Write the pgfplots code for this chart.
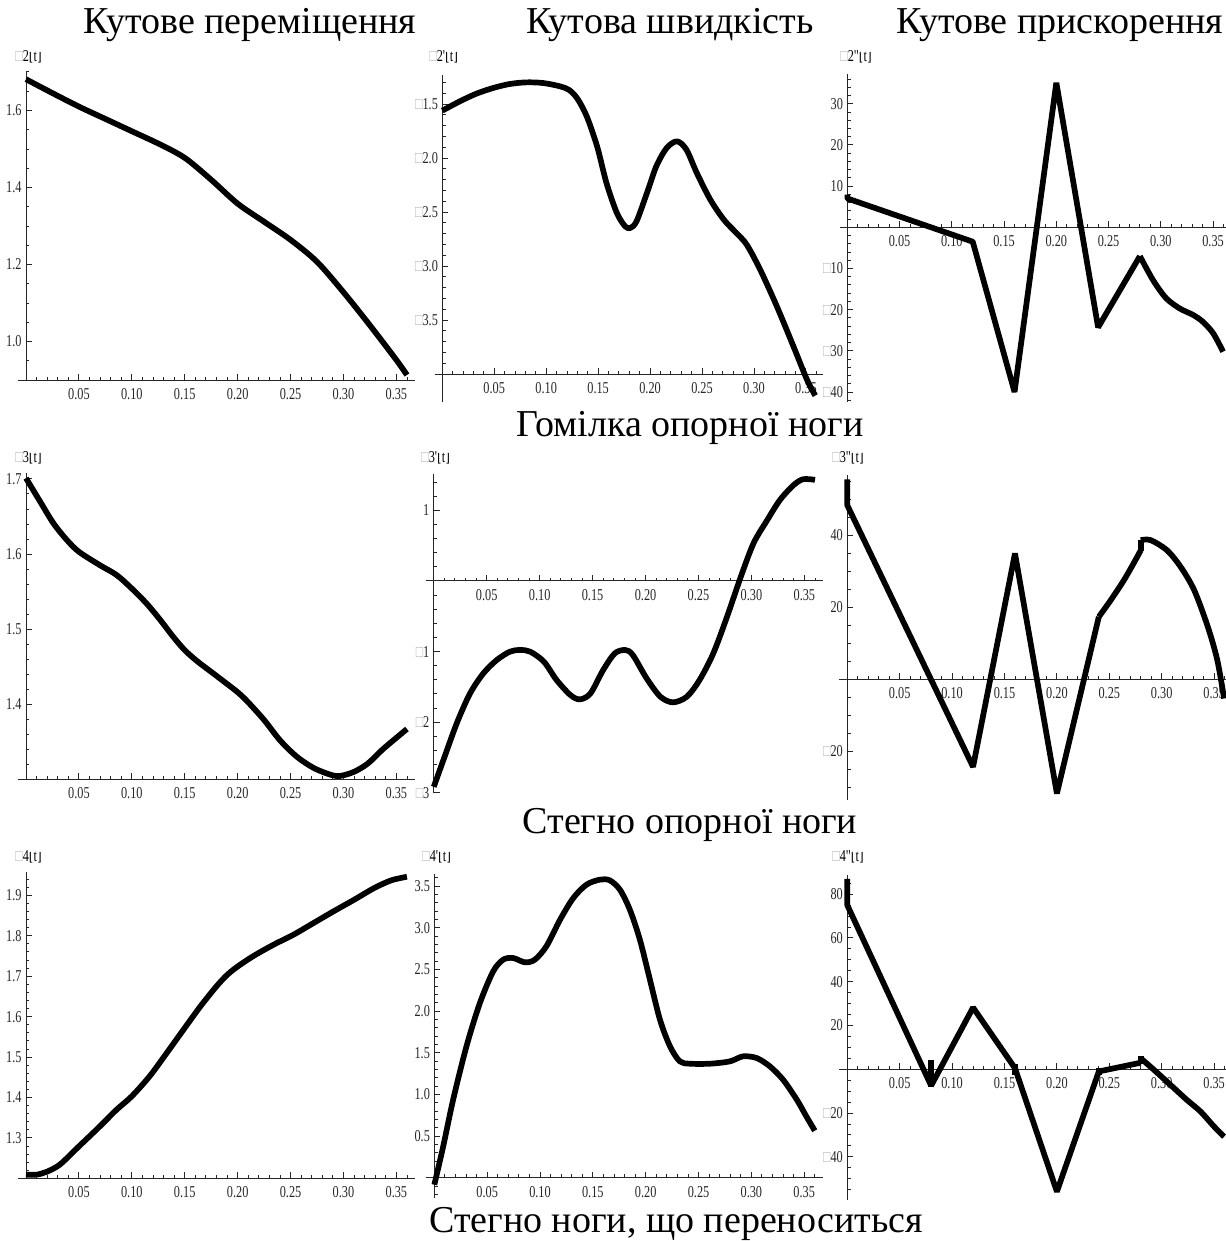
\documentclass[border=0pt]{standalone}
\usepackage{pgfplots}
\pgfplotsset{compat=1.18}
\usepackage{fontspec}
\setmainfont{Liberation Serif}
\newfontfamily\tickfont[FakeStretch=0.74]{Liberation Serif}
\newfontfamily\djv{DejaVu Sans}
\newcommand{\mb}{\textcolor{gray!55}{□}}
\newcommand{\tf}{\tickfont\fontsize{8.3bp}{9bp}\selectfont}
\newcommand{\ylab}[1]{{\tf\mb#1{\djv\fontsize{6bp}{7bp}\selectfont⌊}t{\djv\fontsize{6bp}{7bp}\selectfont⌋}}}

\pgfplotsset{
  every non boxed x axis/.style={},
  every non boxed y axis/.style={},
  mm/.style={
    scale only axis, clip=false, enlargelimits=false,
    axis line style={-, line width=0.5bp, black!85},
    tick align=inside,
    major tick length=3bp, minor tick length=1.7bp,
    every tick/.style={black!85, line width=0.45bp},
    tick label style={font=\tf, text=black!85},
    xtick={0.05,0.1,0.15,0.2,0.25,0.3,0.35},
    xticklabels={0.05,0.10,0.15,0.20,0.25,0.30,0.35},
    minor xtick={0.01,0.02,0.03,0.04,0.06,0.07,0.08,0.09,0.11,0.12,0.13,0.14,0.16,0.17,0.18,0.19,0.21,0.22,0.23,0.24,0.26,0.27,0.28,0.29,0.31,0.32,0.33,0.34,0.36},
    xticklabel style={inner sep=0pt, yshift=-4bp},
    yticklabel style={inner sep=0pt, xshift=-2bp},
  },
  bl/.style={mm, axis x line=bottom, axis y line=left, xmin=0, xmax=0.368,
      x axis line style={-, shorten <=-4bp}},
  mid/.style={mm, axis lines=middle, xmin=-0.0075},
  crv/.style={black, line width=2.85bp, line join=bevel},
}

\begin{document}
\begin{tikzpicture}[x=0.5bp,y=-0.5bp]
\path[use as bounding box] (0,0) rectangle (1226,1241);
\coordinate (p1) at (26,380);
\coordinate (p2) at (442.3,374);
\coordinate (p3) at (839.5,401.9);
\coordinate (p4) at (26,779.3);
\coordinate (p5) at (425.8,792.8);
\coordinate (p6) at (839.4,800);
\coordinate (p7) at (26,1178.3);
\coordinate (p8) at (426.4,1197.7);
\coordinate (p9) at (839.4,1199.9);

% titles
\node[anchor=base, font=\fontsize{19bp}{21bp}\selectfont] at (250,34) {Кутове переміщення};
\node[anchor=base, font=\fontsize{19bp}{21bp}\selectfont] at (670,34) {Кутова швидкість};
\node[anchor=base, font=\fontsize{19bp}{21bp}\selectfont] at (1060,34) {Кутове прискорення};
\node[anchor=base, font=\fontsize{19bp}{21bp}\selectfont] at (690,436) {Гомілка опорної ноги};
\node[anchor=base, font=\fontsize{19bp}{21bp}\selectfont] at (690,833) {Стегно опорної ноги};
\node[anchor=base, font=\fontsize{19bp}{21bp}\selectfont] at (676,1232) {Стегно ноги, що переноситься};

% y labels
\node[anchor=base west, inner sep=0pt] at (15,62) {\ylab{2}};
\node[anchor=base west, inner sep=0pt] at (429,62) {\ylab{2'}};
\node[anchor=base west, inner sep=0pt] at (840,62) {\ylab{2"}};
\node[anchor=base west, inner sep=0pt] at (15,462) {\ylab{3}};
\node[anchor=base west, inner sep=0pt] at (421,462) {\ylab{3'}};
\node[anchor=base west, inner sep=0pt] at (832,462) {\ylab{3"}};
\node[anchor=base west, inner sep=0pt] at (15,861) {\ylab{4}};
\node[anchor=base west, inner sep=0pt] at (422,861) {\ylab{4'}};
\node[anchor=base west, inner sep=0pt] at (832,861) {\ylab{4"}};

% ---------- Panel 1
\begin{axis}[bl, at={(p1)}, anchor=south west, width=194.7bp, height=154.6bp,
  ymin=0.90, ymax=1.703,
  ytick={1.0,1.2,1.4,1.6}, yticklabels={1.0,1.2,1.4,1.6},
  minor ytick={0.95,1.05,1.1,1.15,1.25,1.3,1.35,1.45,1.5,1.55,1.65,1.7}]
\addplot[crv, smooth] coordinates {(0,1.681) (0.025,1.645) (0.05,1.610) (0.075,1.578) (0.10,1.546) (0.125,1.514) (0.15,1.477) (0.175,1.420) (0.20,1.358) (0.225,1.311) (0.25,1.264) (0.275,1.207) (0.30,1.128) (0.325,1.042) (0.35,0.952) (0.36,0.913)};
\end{axis}

% ---------- Panel 2
\begin{axis}[bl, at={(p2)}, anchor=south west, width=190.1bp, height=149.7bp,
  xmax=0.366, ymin=-4, ymax=-1.228,
  x axis line style={-, shorten <=-3.5bp},
  y axis line style={-, shorten <=-13.85bp},
  ytick={-3.5,-3,-2.5,-2,-1.5}, yticklabels={\mb3.5,\mb3.0,\mb2.5,\mb2.0,\mb1.5},
  minor ytick={-3.9,-3.8,-3.7,-3.6,-3.4,-3.3,-3.2,-3.1,-2.9,-2.8,-2.7,-2.6,-2.4,-2.3,-2.2,-2.1,-1.9,-1.8,-1.7,-1.6,-1.4,-1.3}]
\addplot[crv, smooth] coordinates {(0,-1.562) (0.017,-1.475) (0.033,-1.404) (0.049,-1.352) (0.065,-1.315) (0.081,-1.300) (0.097,-1.306) (0.113,-1.336) (0.122,-1.370) (0.130,-1.450) (0.139,-1.614) (0.149,-1.892) (0.158,-2.231) (0.168,-2.509) (0.176,-2.633) (0.181,-2.648) (0.187,-2.586) (0.197,-2.324) (0.206,-2.077) (0.216,-1.907) (0.226,-1.846) (0.235,-1.923) (0.245,-2.139) (0.258,-2.386) (0.271,-2.571) (0.283,-2.694) (0.293,-2.802) (0.306,-3.034) (0.322,-3.373) (0.338,-3.744) (0.351,-4.052) (0.359,-4.200)};
\end{axis}

% ---------- Panel 3
\begin{axis}[mid, at={(p3)}, anchor=south west, width=193.3bp, height=163.7bp,
  xmax=0.3625, ymin=-42.4, ymax=37.1,
  ytick={-40,-30,-20,-10,10,20,30}, yticklabels={\mb40,\mb30,\mb20,\mb10,10,20,30},
  minor ytick={-42,-38,-36,-34,-32,-28,-26,-24,-22,-18,-16,-14,-12,-8,-6,-4,-2,2,4,6,8,12,14,16,18,22,24,26,28,32,34,36}]
\addplot[crv] coordinates {(0,7.9) (0,7.0) (0.12,-3.5) (0.16,-40) (0.20,35.1) (0.24,-24.3) (0.28,-7.0)};
\addplot[crv, smooth] coordinates {(0.28,-7.0) (0.2925,-12.8) (0.305,-17.2) (0.318,-19.7) (0.331,-21.3) (0.340,-22.9) (0.350,-25.7) (0.3596,-30.2)};
\end{axis}

% ---------- Panel 4
\begin{axis}[bl, at={(p4)}, anchor=south west, width=194.7bp, height=153bp,
  ymin=1.30, ymax=1.7075,
  ytick={1.4,1.5,1.6,1.7}, yticklabels={1.4,1.5,1.6,1.7},
  minor ytick={1.32,1.34,1.36,1.38,1.42,1.44,1.46,1.48,1.52,1.54,1.56,1.58,1.62,1.64,1.66,1.68}]
\addplot[crv, smooth] coordinates {(0,1.701) (0.0133,1.670) (0.0259,1.641) (0.0384,1.619) (0.05,1.603) (0.070,1.585) (0.0857,1.572) (0.10,1.554) (0.114,1.534) (0.127,1.512) (0.139,1.490) (0.150,1.472) (0.162,1.457) (0.177,1.441) (0.19,1.427) (0.2,1.416) (0.209,1.404) (0.225,1.379) (0.240,1.352) (0.256,1.330) (0.272,1.315) (0.288,1.306) (0.297,1.3045) (0.310,1.310) (0.323,1.321) (0.338,1.341) (0.36,1.367)};
\end{axis}

% ---------- Panel 5
\begin{axis}[mid, at={(p5)}, anchor=south west, width=198.6bp, height=159.6bp,
  xmax=0.3676, ymin=-3.0, ymax=1.52,
  ytick={-3,-2,-1,1}, yticklabels={\mb3,\mb2,\mb1,1},
  minor ytick={-2.8,-2.6,-2.4,-2.2,-1.8,-1.6,-1.4,-1.2,-0.8,-0.6,-0.4,-0.2,0.2,0.4,0.6,0.8,1.2,1.4}]
\addplot[crv, smooth] coordinates {(0,-2.915) (0.0091,-2.537) (0.0217,-2.017) (0.0343,-1.592) (0.0469,-1.308) (0.0595,-1.120) (0.072,-1.001) (0.0815,-0.978) (0.091,-1.001) (0.104,-1.143) (0.116,-1.403) (0.129,-1.615) (0.138,-1.677) (0.148,-1.592) (0.160,-1.261) (0.171,-1.025) (0.181,-0.978) (0.188,-1.049) (0.201,-1.379) (0.214,-1.639) (0.226,-1.719) (0.239,-1.639) (0.251,-1.403) (0.264,-1.025) (0.277,-0.505) (0.290,0.061) (0.302,0.534) (0.315,0.864) (0.327,1.148) (0.340,1.360) (0.349,1.441) (0.360,1.431)};
\end{axis}

% ---------- Panel 6
\begin{axis}[mid, at={(p6)}, anchor=south west, width=193.9bp, height=162.5bp,
  xmax=0.3625, ymin=-33.6, ymax=56.7,
  ytick={-20,20,40}, yticklabels={\mb20,20,40},
  minor ytick={-30,-25,-15,-10,-5,5,10,15,25,30,35,45,50,55}]
\addplot[crv] coordinates {(0,55.5) (0,48.3) (0.12,-24.4) (0.16,34.9) (0.20,-31.8) (0.24,17.3)};
\addplot[crv, smooth] coordinates {(0.24,17.3) (0.2513,21.9) (0.264,27.5) (0.275,33.1) (0.28,35.8)};
\addplot[crv] coordinates {(0.28,35.5) (0.28,38.6)};
\addplot[crv, smooth] coordinates {(0.28,38.6) (0.2895,38.6) (0.305,35.8) (0.318,31.2) (0.331,24.7) (0.344,14.5) (0.353,5.3) (0.3595,-5.4)};
\end{axis}

% ---------- Panel 7
\begin{axis}[bl, at={(p7)}, anchor=south west, width=194.7bp, height=153.4bp,
  ymin=1.20, ymax=1.959,
  ytick={1.3,1.4,1.5,1.6,1.7,1.8,1.9}, yticklabels={1.3,1.4,1.5,1.6,1.7,1.8,1.9},
  minor ytick={1.22,1.24,1.26,1.28,1.32,1.34,1.36,1.38,1.42,1.44,1.46,1.48,1.52,1.54,1.56,1.58,1.62,1.64,1.66,1.68,1.72,1.74,1.76,1.78,1.82,1.84,1.86,1.88,1.92,1.94}]
\addplot[crv, smooth] coordinates {(0,1.209) (0.0099,1.209) (0.0194,1.216) (0.032,1.234) (0.05,1.279) (0.070,1.329) (0.0857,1.370) (0.10,1.403) (0.117,1.453) (0.133,1.510) (0.150,1.572) (0.165,1.626) (0.180,1.675) (0.19,1.703) (0.200,1.724) (0.215,1.750) (0.234,1.778) (0.253,1.803) (0.272,1.832) (0.291,1.861) (0.310,1.889) (0.329,1.918) (0.345,1.937) (0.36,1.946)};
\end{axis}

% ---------- Panel 8
\begin{axis}[mid, at={(p8)}, anchor=south west, width=198.2bp, height=162.1bp,
  xmax=0.3676, ymin=-0.24, ymax=3.65,
  ytick={0.5,1,1.5,2,2.5,3,3.5}, yticklabels={0.5,1.0,1.5,2.0,2.5,3.0,3.5},
  minor ytick={-0.2,-0.1,0.1,0.2,0.3,0.4,0.6,0.7,0.8,0.9,1.1,1.2,1.3,1.4,1.6,1.7,1.8,1.9,2.1,2.2,2.3,2.4,2.6,2.7,2.8,2.9,3.1,3.2,3.3,3.4,3.6}]
\addplot[crv, smooth] coordinates {(0,-0.084) (0.0084,0.376) (0.0178,0.936) (0.0304,1.576) (0.0431,2.096) (0.0557,2.476) (0.0651,2.616) (0.0746,2.636) (0.0857,2.584) (0.0951,2.616) (0.106,2.776) (0.119,3.096) (0.1315,3.356) (0.144,3.516) (0.1566,3.576) (0.166,3.568) (0.1756,3.456) (0.185,3.216) (0.1945,2.856) (0.204,2.376) (0.2135,1.896) (0.223,1.576) (0.2323,1.396) (0.2418,1.368) (0.261,1.368) (0.2797,1.396) (0.292,1.456) (0.305,1.436) (0.3175,1.336) (0.330,1.176) (0.343,0.936) (0.352,0.736) (0.36,0.564)};
\end{axis}

% ---------- Panel 9
\begin{axis}[mid, at={(p9)}, anchor=south west, width=193.9bp, height=162.5bp,
  xmax=0.3625, ymin=-59.7, ymax=88.8,
  ytick={-40,-20,20,40,60,80}, yticklabels={\mb40,\mb20,20,40,60,80},
  minor ytick={-55,-50,-45,-35,-30,-25,-15,-10,-5,5,10,15,25,30,35,45,50,55,65,70,75,85}]
\addplot[crv] coordinates {(0,87) (0,75) (0.08,-7.5) (0.12,28.2) (0.16,0.5) (0.20,-55.9) (0.24,-1.0) (0.28,3.0)};
\addplot[crv] coordinates {(0.08,-7.9) (0.08,4.3)};
\addplot[crv] coordinates {(0.16,-2.5) (0.16,2.5)};
\addplot[crv] coordinates {(0.24,-2.5) (0.24,0.8)};
\addplot[crv] coordinates {(0.28,2.5) (0.28,6.0)};
\addplot[crv, smooth] coordinates {(0.28,5.0) (0.2927,-0.3) (0.3085,-7.2) (0.324,-14) (0.337,-19.3) (0.350,-26.2) (0.3595,-30.8)};
\end{axis}
\end{tikzpicture}
\end{document}
